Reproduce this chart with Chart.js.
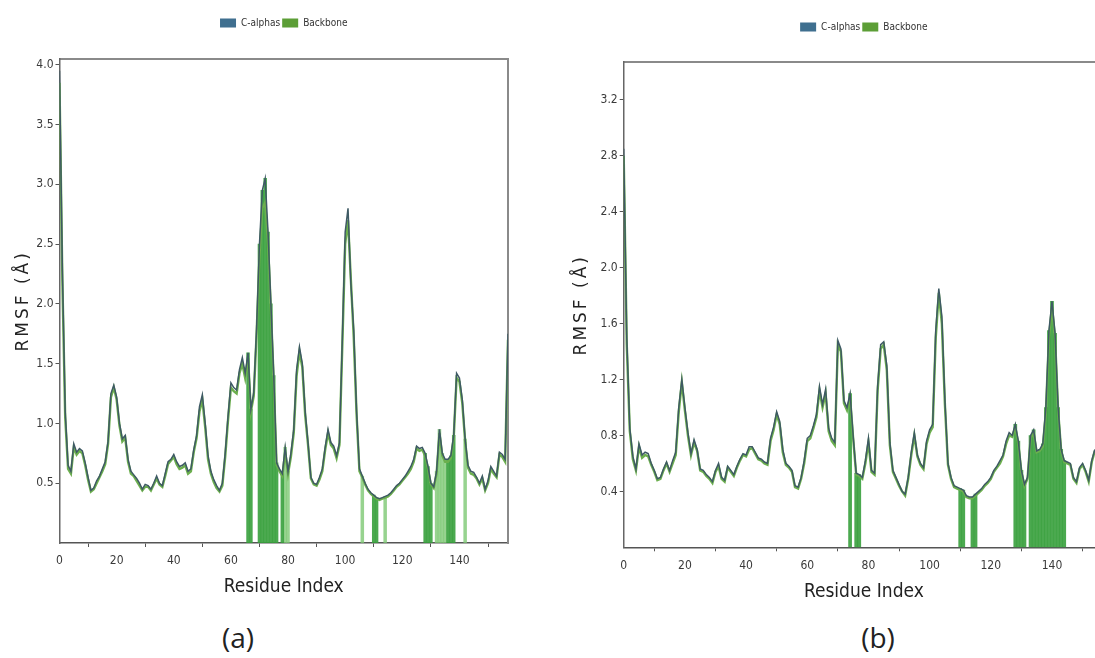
<!DOCTYPE html>
<html><head><meta charset="utf-8">
<script src="https://cdn.jsdelivr.net/npm/chart.js@4.4.1/dist/chart.umd.min.js"></script>
<style>
html,body{margin:0;padding:0;background:#fff;width:1095px;height:658px;overflow:hidden;position:relative}
canvas{position:absolute;top:0}
#cA{left:0}
#cB{left:560px}
.lab{position:absolute;font-family:'Open Sans',sans-serif;font-size:28px;color:#222;transform:translate(-50%,-50%);white-space:nowrap}
</style></head><body>
<canvas id="cA" width="520" height="615"></canvas>
<canvas id="cB" width="560" height="615"></canvas>
<div class="lab" style="left:238px;top:637px">(a)</div>
<div class="lab" style="left:878px;top:637px">(b)</div>
<script>
// ---------- data ----------
const xTicks = [0, 20, 40, 60, 80, 100, 120, 140];
const yTicksA = [0.5, 1.0, 1.5, 2.0, 2.5, 3.0, 3.5, 4.0];
const yTicksB = [0.4, 0.8, 1.2, 1.6, 2.0, 2.4, 2.8, 3.2];
const seriesNames = ['C-alphas', 'Backbone'];

// panel (a): RMSF per residue index 0..157
const calphaA = [3.95,2.3,1.1,0.65,0.6,0.83,0.76,0.79,0.77,0.67,
 0.55,0.44,0.46,0.52,0.56,0.62,0.68,0.85,1.25,1.32,
 1.22,1.0,0.87,0.9,0.7,0.6,0.57,0.54,0.5,0.45,
 0.49,0.48,0.45,0.5,0.56,0.5,0.48,0.58,0.68,0.7,
 0.74,0.68,0.64,0.65,0.67,0.6,0.62,0.78,0.9,1.14,
 1.24,1.0,0.73,0.6,0.53,0.48,0.44,0.5,0.75,1.06,
 1.34,1.3,1.28,1.45,1.55,1.42,1.59,1.12,1.26,1.8,
 2.5,2.95,3.05,2.6,2.0,1.4,0.67,0.62,0.58,0.8,
 0.6,0.75,0.95,1.45,1.64,1.5,1.1,0.84,0.55,0.5,
 0.49,0.55,0.62,0.8,0.95,0.84,0.81,0.73,0.84,1.7,
 2.6,2.8,2.17,1.78,1.1,0.62,0.56,0.5,0.45,0.42,
 0.4,0.38,0.37,0.38,0.39,0.4,0.42,0.45,0.48,0.5,
 0.53,0.56,0.6,0.64,0.7,0.81,0.79,0.8,0.75,0.64,
 0.5,0.47,0.6,0.95,0.75,0.7,0.7,0.73,0.9,1.42,
 1.38,1.2,0.87,0.65,0.6,0.59,0.55,0.5,0.56,0.45,
 0.52,0.64,0.6,0.56,0.76,0.74,0.7,1.75];
const backboneA = [3.85,2.2,1.05,0.62,0.58,0.8,0.74,0.77,0.75,0.65,
 0.53,0.43,0.45,0.5,0.55,0.6,0.66,0.83,1.22,1.3,
 1.2,0.98,0.85,0.88,0.68,0.58,0.56,0.52,0.48,0.44,
 0.47,0.47,0.44,0.49,0.54,0.49,0.47,0.56,0.66,0.69,
 0.72,0.66,0.62,0.63,0.65,0.58,0.6,0.76,0.88,1.1,
 1.2,0.97,0.7,0.58,0.51,0.46,0.43,0.48,0.72,1.03,
 1.3,1.27,1.25,1.42,1.5,1.38,1.55,1.1,1.23,1.75,
 2.4,2.8,2.85,2.5,1.95,1.35,0.65,0.6,0.56,0.76,
 0.58,0.72,0.92,1.4,1.6,1.47,1.07,0.82,0.54,0.49,
 0.48,0.53,0.6,0.78,0.92,0.82,0.79,0.71,0.82,1.65,
 2.5,2.7,2.2,1.72,1.07,0.6,0.55,0.49,0.44,0.41,
 0.39,0.37,0.36,0.37,0.38,0.39,0.41,0.44,0.47,0.49,
 0.52,0.55,0.58,0.62,0.68,0.79,0.77,0.78,0.73,0.62,
 0.49,0.46,0.58,0.92,0.73,0.68,0.68,0.71,0.88,1.38,
 1.35,1.17,0.85,0.63,0.58,0.57,0.54,0.49,0.54,0.44,
 0.5,0.62,0.58,0.55,0.74,0.72,0.68,1.7];
const contactsA = [66,67,70,71,72,73,74,75,76,78,110,111,128,129,130,136,137,138];
const contactsALight = [79,80,106,114,132,133,134,135,142];

// panel (b): RMSF per residue index 0..154 (visible part)
const calphaB = [2.85,1.5,0.85,0.65,0.56,0.74,0.66,0.68,0.67,0.6,
 0.55,0.49,0.5,0.56,0.61,0.55,0.62,0.68,1.0,1.2,
 1.0,0.82,0.67,0.77,0.7,0.56,0.55,0.52,0.5,0.47,
 0.55,0.6,0.5,0.48,0.58,0.55,0.52,0.58,0.63,0.67,
 0.66,0.72,0.72,0.68,0.64,0.63,0.61,0.6,0.78,0.86,
 0.97,0.9,0.7,0.6,0.58,0.55,0.44,0.43,0.5,0.62,
 0.78,0.8,0.87,0.95,1.15,1.02,1.13,0.85,0.78,0.75,
 1.48,1.42,1.05,1.0,1.1,0.8,0.53,0.52,0.5,0.62,
 0.78,0.55,0.53,1.15,1.45,1.47,1.3,0.75,0.55,0.5,
 0.45,0.4,0.38,0.5,0.68,0.82,0.66,0.6,0.57,0.76,
 0.84,0.88,1.55,1.85,1.65,1.05,0.6,0.5,0.44,0.43,
 0.42,0.41,0.37,0.36,0.36,0.38,0.4,0.42,0.45,0.47,
 0.5,0.55,0.58,0.62,0.66,0.76,0.82,0.8,0.88,0.76,
 0.55,0.45,0.5,0.8,0.84,0.69,0.7,0.74,1.0,1.55,
 1.76,1.53,1.0,0.7,0.62,0.61,0.6,0.5,0.47,0.57,
 0.6,0.55,0.48,0.62,0.7];
const backboneB = [2.8,1.45,0.83,0.63,0.55,0.72,0.64,0.66,0.65,0.59,
 0.54,0.48,0.49,0.55,0.6,0.54,0.6,0.66,0.97,1.18,
 0.98,0.8,0.66,0.75,0.69,0.55,0.54,0.51,0.49,0.46,
 0.54,0.58,0.49,0.47,0.57,0.54,0.51,0.57,0.62,0.66,
 0.65,0.7,0.71,0.67,0.63,0.62,0.6,0.59,0.76,0.84,
 0.95,0.88,0.68,0.59,0.57,0.54,0.43,0.42,0.49,0.6,
 0.76,0.78,0.85,0.93,1.12,1.0,1.1,0.83,0.76,0.73,
 1.45,1.4,1.03,0.98,1.07,0.78,0.52,0.51,0.49,0.6,
 0.75,0.54,0.52,1.12,1.42,1.45,1.27,0.73,0.54,0.49,
 0.44,0.4,0.37,0.49,0.66,0.8,0.65,0.59,0.56,0.74,
 0.82,0.86,1.5,1.82,1.6,1.02,0.59,0.49,0.43,0.42,
 0.41,0.4,0.36,0.35,0.35,0.37,0.39,0.41,0.44,0.46,
 0.49,0.54,0.57,0.6,0.65,0.74,0.8,0.79,0.86,0.74,
 0.54,0.44,0.49,0.78,0.82,0.68,0.69,0.72,0.97,1.5,
 1.72,1.5,0.98,0.69,0.61,0.6,0.59,0.49,0.46,0.56,
 0.59,0.54,0.47,0.61,0.69];
const contactsB = [74,76,77,110,111,114,115,128,129,130,131,133,134,135,136,137,138,139,140,141,142,143,144];
const contactsBLight = [];

// ---------- chart ----------
const tickFont = {family: "'DejaVu Sans Condensed','DejaVu Sans',sans-serif", size: 12};

const yTitlePlugin = {
  id: 'ytitle',
  afterDraw(chart, args, opts) {
    const ctx = chart.ctx, a = chart.chartArea;
    ctx.save();
    ctx.translate(opts.x, (a.top + a.bottom) / 2);
    ctx.rotate(-Math.PI / 2);
    ctx.font = "17px 'DejaVu Sans', sans-serif";
    if ('letterSpacing' in ctx) ctx.letterSpacing = '3px';
    ctx.fillStyle = '#222';
    ctx.textAlign = 'center';
    ctx.textBaseline = 'middle';
    ctx.fillText(opts.text, 0, 0);
    ctx.restore();
  }
};

function build(id, c) {
  const pts = arr => arr.map((v, i) => ({x: i, y: v}));
  const barPts = idx => idx.map(r => ({x: r, y: c.ca[r]}));
  const scales = {
    x: {
      type: 'linear', min: 0, max: c.xMax, offset: false,
      afterBuildTicks: s => { s.ticks = xTicks.map(v => ({value: v})); },
      afterFit: s => { s.height = c.xHeight; },
      ticks: {font: tickFont, color: '#3a3a3a', padding: 7, maxRotation: 0, autoSkip: false, callback: v => String(v)},
      grid: {display: true, drawOnChartArea: false, drawTicks: true, tickLength: 4, color: '#555', tickColor: '#555'},
      border: {display: true, color: '#555', width: 1.5},
      title: {display: true, text: 'Residue Index', color: '#222',
        font: {family: "'DejaVu Sans Condensed','DejaVu Sans',sans-serif", size: 19},
        padding: {top: 0, bottom: c.xTitlePad}}
    },
    x2: {
      type: 'linear', position: 'top', min: 0, max: c.xMax, display: true,
      ticks: {display: false}, grid: {display: false},
      border: {display: true, color: '#8a8a8a', width: 2},
      afterFit: s => { s.height = c.gapTop; }
    },
    y: {
      type: 'linear', min: 0, max: c.yMax,
      afterBuildTicks: s => { s.ticks = c.yTicks.map(v => ({value: v})); },
      afterFit: s => { s.width = c.yWidth; },
      ticks: {font: tickFont, color: '#3a3a3a', padding: 2, callback: v => Number(v).toFixed(1)},
      grid: {display: true, drawOnChartArea: false, drawTicks: true, tickLength: 4, color: '#555', tickColor: '#555'},
      border: {display: true, color: '#666', width: 1.5}
    }
  };
  if (c.frameRight) {
    scales.y2 = {
      type: 'linear', position: 'right', min: 0, max: c.yMax, display: true,
      ticks: {display: false}, grid: {display: false},
      border: {display: true, color: '#8a8a8a', width: 2},
      afterFit: s => { s.width = 0; }
    };
  }
  const datasets = [
    {type: 'line', label: seriesNames[0], data: pts(c.ca), borderColor: '#3e5a64', backgroundColor: '#3f6f8f',
     borderWidth: 1.5, pointRadius: 0, tension: 0, order: 1},
    {type: 'line', label: seriesNames[1], data: pts(c.bb), borderColor: '#6caf4e', backgroundColor: '#5c9e36',
     borderWidth: 2.4, pointRadius: 0, tension: 0, order: 2},
    {type: 'bar', label: 'contacts', data: barPts(c.bars), backgroundColor: 'rgba(55,160,60,0.9)',
     borderWidth: 0, grouped: false, barPercentage: 1, categoryPercentage: 1, order: 3},
    {type: 'bar', label: 'contacts-light', data: barPts(c.barsLight), backgroundColor: 'rgba(125,200,115,0.8)',
     borderWidth: 0, grouped: false, barPercentage: 1, categoryPercentage: 1, order: 4}
  ];
  return new Chart(document.getElementById(id), {
    type: 'bar',
    data: {datasets},
    plugins: [yTitlePlugin],
    options: {
      responsive: false, animation: false, events: [],
      layout: {padding: {left: 0, right: c.padRight, top: c.padTop, bottom: 0}},
      scales,
      plugins: {
        tooltip: {enabled: false},
        ytitle: {x: c.yTitleX, text: 'RMSF (Å)'},
        legend: {
          display: true, position: 'top', align: 'center', fullSize: false,
          labels: {
            boxWidth: 16, boxHeight: 9, padding: 2, color: '#333',
            font: {family: "'DejaVu Sans Condensed','DejaVu Sans',sans-serif", size: 10},
            generateLabels: ch => Chart.defaults.plugins.legend.labels.generateLabels(ch)
              .filter(it => it.datasetIndex < 2).map(it => Object.assign(it, {lineWidth: 0}))
          }
        }
      }
    }
  });
}

build('cA', {ca: calphaA, bb: backboneA, bars: contactsA, barsLight: contactsALight,
  yTicks: yTicksA, yMax: 4.05, xMax: 157, yWidth: 59.5, xHeight: 72, padTop: 16, gapTop: 20.8,
  padRight: 12, xTitlePad: 16.6, yTitleX: 24, frameRight: true});
build('cB', {ca: calphaB, bb: backboneB, bars: contactsB, barsLight: contactsBLight,
  yTicks: yTicksB, yMax: 3.47, xMax: 157, yWidth: 63.7, xHeight: 67.7, padTop: 20, gapTop: 20.2,
  padRight: 16, xTitlePad: 12, yTitleX: 22, frameRight: false});
</script>
</body></html>
